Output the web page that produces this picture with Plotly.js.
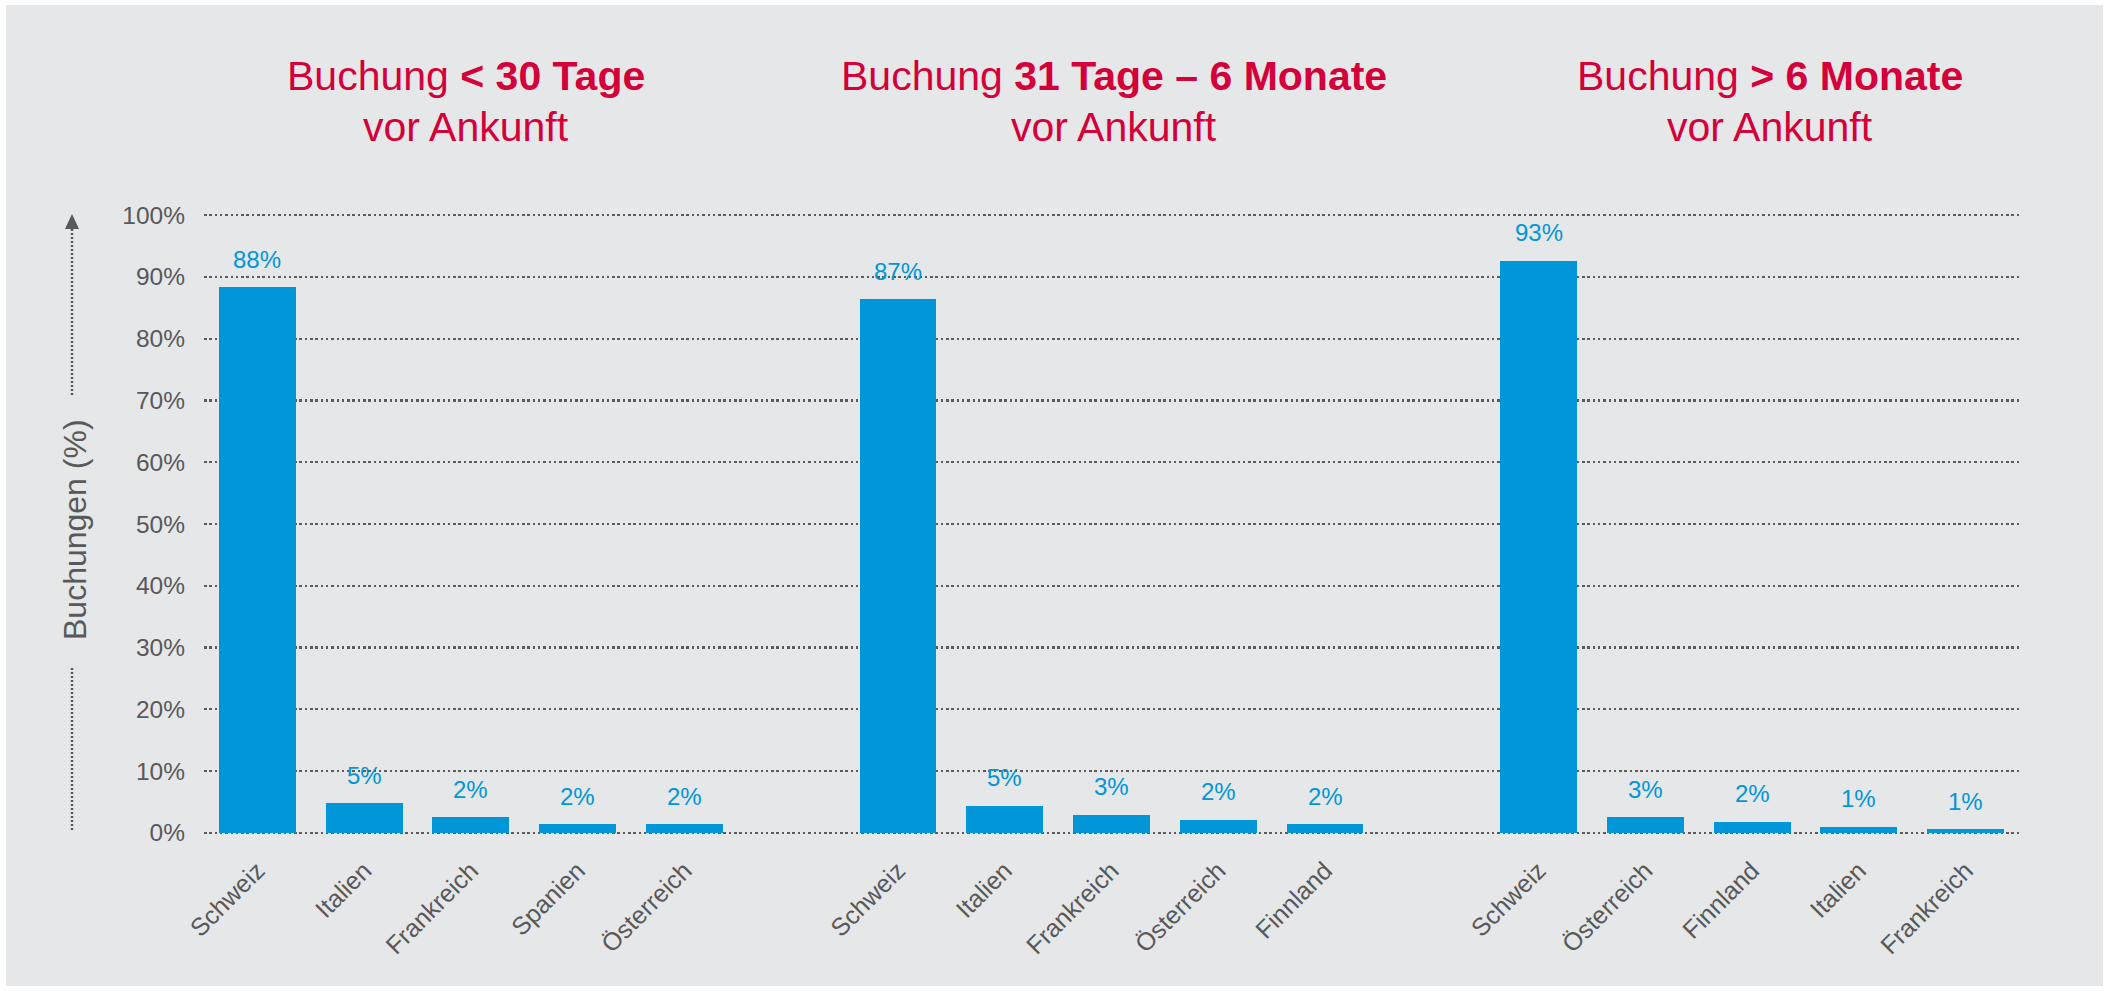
<!DOCTYPE html>
<html>
<head>
<meta charset="utf-8">
<script src="https://cdn.plot.ly/plotly-3.0.1.min.js"></script>
<style>html,body{margin:0;padding:0;background:#fff;}#chart{width:2109px;height:991px;}</style>
</head>
<body>
<div id="chart"></div>
<script>
// ---- Data ----
const groupTitlesLine1 = [
  'Buchung <b>&lt; 30 Tage</b>',
  'Buchung <b>31 Tage – 6 Monate</b>',
  'Buchung <b>&gt; 6 Monate</b>'
];
const groupTitleLine2 = 'vor Ankunft';

const cats1 = ['Schweiz', 'Italien', 'Frankreich', 'Spanien', 'Österreich'];
const vals1 = [88.3, 4.8, 2.5, 1.4, 1.4];
const labels1 = ['88%', '5%', '2%', '2%', '2%'];

const cats2 = ['Schweiz', 'Italien', 'Frankreich', 'Österreich', 'Finnland'];
const vals2 = [86.4, 4.4, 2.9, 2.1, 1.4];
const labels2 = ['87%', '5%', '3%', '2%', '2%'];

const cats3 = ['Schweiz', 'Österreich', 'Finnland', 'Italien', 'Frankreich'];
const vals3 = [92.6, 2.5, 1.8, 1.0, 0.6];
const labels3 = ['93%', '3%', '2%', '1%', '1%'];

const yTickVals = [0, 10, 20, 30, 40, 50, 60, 70, 80, 90, 100];
const yAxisTitle = 'Buchungen (%)';

// ---- Layout geometry ----
const W = 2109, H = 991;
const Y0PX = 833, Y100PX = 215;           // pixel rows of 0% and 100%
const PAD = 0.5;                          // small range padding so edge gridlines are drawn
const pxPerUnit = (Y0PX - Y100PX) / 100;
const M = {l: 204, r: 90, t: Math.round(Y100PX - PAD * pxPerUnit), b: Math.round(H - Y0PX - PAD * pxPerUnit)};
const PW = W - M.l - M.r, PH = H - M.t - M.b;
const px2x = p => (p - M.l) / PW;
const py2y = p => (H - M.b - p) / PH;

const BLUE = '#0096d8';
const GREY = '#58595b';
const RED = '#d4003a';
const BG = '#e6e7e8';
const FONT = 'Liberation Sans, Arial, sans-serif';

const groups = [
  {cats: cats1, vals: vals1, labels: labels1},
  {cats: cats2, vals: vals2, labels: labels2},
  {cats: cats3, vals: vals3, labels: labels3}
];
const slotsPerGroup = 6; // 5 bars + 1 empty slot

const traces = [];
const tickvals = [], ticktext = [];
const annotations = [];
groups.forEach((g, gi) => {
  const xs = g.cats.map((c, i) => gi * slotsPerGroup + i);
  xs.forEach((x, i) => { tickvals.push(x); ticktext.push(g.cats[i]); });
  traces.push({
    type: 'bar', x: xs, y: g.vals, width: 0.72,
    marker: {color: BLUE, line: {width: 0}},
    hoverinfo: 'skip', showlegend: false
  });
  xs.forEach((x, i) => {
    annotations.push({
      xref: 'x', yref: 'y', x: x, y: g.vals[i], text: g.labels[i],
      showarrow: false, yanchor: 'middle', yshift: 28,
      font: {family: FONT, size: 24, color: BLUE}
    });
  });
});

// group titles
const titleCentersPx = [466, 1114, 1770];
titleCentersPx.forEach((cx, i) => {
  annotations.push({
    xref: 'paper', yref: 'paper', x: px2x(cx), y: py2y(76),
    text: groupTitlesLine1[i], showarrow: false, xanchor: 'center', yanchor: 'middle',
    font: {family: FONT, size: 41, color: RED}
  });
  annotations.push({
    xref: 'paper', yref: 'paper', x: px2x(cx), y: py2y(127),
    text: groupTitleLine2, showarrow: false, xanchor: 'center', yanchor: 'middle',
    font: {family: FONT, size: 41, color: RED}
  });
});

// y axis title
annotations.push({
  xref: 'paper', yref: 'paper', x: px2x(75), y: py2y(530),
  text: yAxisTitle, showarrow: false, textangle: -90,
  xanchor: 'center', yanchor: 'middle',
  font: {family: FONT, size: 32, color: GREY}
});

const ax = px2x(72);
const shapes = [
  {type: 'rect', xref: 'paper', yref: 'paper', x0: px2x(6), x1: px2x(2103), y0: py2y(986), y1: py2y(5),
   fillcolor: BG, line: {width: 0}, layer: 'below'},
  {type: 'line', xref: 'paper', yref: 'paper', x0: ax, x1: ax, y0: py2y(229), y1: py2y(395),
   line: {color: GREY, width: 2.5, dash: '2px,2px'}},
  {type: 'line', xref: 'paper', yref: 'paper', x0: ax, x1: ax, y0: py2y(668), y1: py2y(832),
   line: {color: GREY, width: 2.5, dash: '2px,2px'}},
  {type: 'path', xref: 'paper', yref: 'paper',
   path: `M ${px2x(72)},${py2y(214)} L ${px2x(65)},${py2y(229)} L ${px2x(79)},${py2y(229)} Z`,
   fillcolor: GREY, line: {width: 0}}
];

const layout = {
  width: W, height: H,
  margin: M,
  paper_bgcolor: '#ffffff',
  plot_bgcolor: 'rgba(0,0,0,0)',
  showlegend: false,
  bargap: 0,
  xaxis: {
    range: [-0.5, 3 * slotsPerGroup - 1 - 0.5],
    tickmode: 'array', tickvals: tickvals, ticktext: ticktext,
    tickangle: -45, ticks: '', showgrid: false, zeroline: false, showline: false,
    ticklabelstandoff: 14,
    tickfont: {family: FONT, size: 25, color: GREY}
  },
  yaxis: {
    range: [-PAD, 100 + PAD],
    tickmode: 'array', tickvals: yTickVals, ticktext: yTickVals.map(v => v + '%'),
    ticks: '', showline: false, zeroline: false,
    showgrid: true, gridcolor: '#5a5b5d', gridwidth: 2.2, griddash: '2.5px,2.8px',
    ticklabelstandoff: 18,
    tickfont: {family: FONT, size: 24.5, color: GREY}
  },
  annotations: annotations,
  shapes: shapes
};

Plotly.newPlot('chart', traces, layout, {displayModeBar: false, staticPlot: true});
</script>
</body>
</html>
